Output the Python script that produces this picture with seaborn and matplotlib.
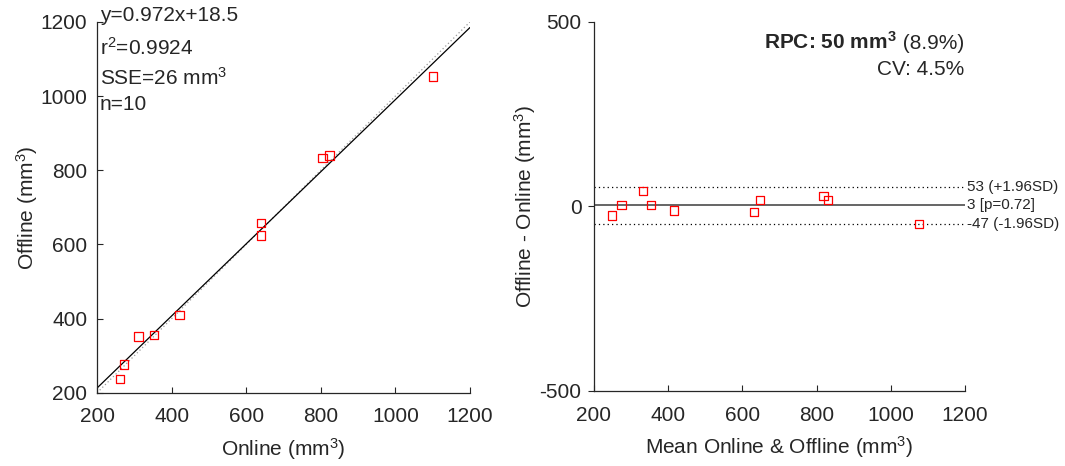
import numpy as np
import pandas as pd
import matplotlib
matplotlib.use("Agg")
import matplotlib.pyplot as plt
import seaborn as sns

# Paired volume measurements (mm^3)
online = [1100, 805, 823, 639, 639, 421, 352, 311, 272, 262]
offline = [1053, 833, 840, 657, 624, 410, 356, 352, 276, 237]

# Regression and agreement statistics
slope, intercept = 0.972, 18.5
r2 = 0.9924
sse = 26
bias = 3
loa_upper, loa_lower = 53, -47
p_bias = 0.72
rpc, rpc_pct = 50, 8.9
cv_pct = 4.5

sns.set_theme(style="ticks")
plt.rcParams["font.family"] = ["Liberation Sans", "DejaVu Sans"]
plt.rcParams["mathtext.fontset"] = "custom"
plt.rcParams["mathtext.rm"] = "Liberation Sans"
plt.rcParams["mathtext.it"] = "Liberation Sans:italic"
plt.rcParams["mathtext.bf"] = "Liberation Sans:bold"
plt.rcParams["axes.unicode_minus"] = False

FS = 15
INK = "#262626"
df = pd.DataFrame({"online": online, "offline": offline})
df["mean"] = (df["online"] + df["offline"]) / 2
df["diff"] = df["offline"] - df["online"]

fig = plt.figure(figsize=(10.65, 4.66), dpi=100)
ax1 = fig.add_axes([0.0911, 0.157, 0.3502, 0.796])
ax2 = fig.add_axes([0.5577, 0.161, 0.3484, 0.792])

# --- Correlation plot ---
xs = np.array([200, 1200])
ax1.plot(xs, xs, color="0.6", lw=0.9, ls=(0, (1, 2)), zorder=1)
ax1.plot(xs, slope * xs + intercept, color="black", lw=0.9, zorder=2)
sns.scatterplot(data=df, x="online", y="offline", ax=ax1, marker="s", s=36,
                facecolor="none", edgecolor="red", linewidth=0.9, zorder=3)
ax1.set_xlim(200, 1200)
ax1.set_ylim(200, 1200)
ax1.set_xticks(range(200, 1201, 200))
ax1.set_yticks(range(200, 1201, 200))
ax1.set_xlabel("Online (mm$^3$)", fontsize=FS, color=INK, labelpad=7)
ax1.set_ylabel("Offline (mm$^3$)", fontsize=FS, color=INK, labelpad=0)
stats = [f"y={slope}x+{intercept}", f"r$^2$={r2}", f"SSE={sse} mm$^3$", f"n={len(online)}"]
ypos = [1.017, 0.93, 0.848, 0.777]
for s, yy in zip(stats, ypos):
    ax1.text(0.008, yy, s, transform=ax1.transAxes, fontsize=FS, color=INK,
             ha="left", va="center")
ax1.tick_params(axis="both", direction="in")

# --- Bland-Altman plot ---
ax2.axhline(bias, color="0.35", lw=1.3, zorder=1)
ax2.axhline(loa_upper, color="black", lw=0.9, ls=(0, (1, 2.5)), zorder=1)
ax2.axhline(loa_lower, color="black", lw=0.9, ls=(0, (1, 2.5)), zorder=1)
sns.scatterplot(data=df, x="mean", y="diff", ax=ax2, marker="s", s=36,
                facecolor="none", edgecolor="red", linewidth=0.9, zorder=3)
ax2.set_xlim(200, 1200)
ax2.set_ylim(-500, 500)
ax2.set_xticks(range(200, 1201, 200))
ax2.set_yticks([-500, 0, 500])
ax2.set_xlabel("Mean Online & Offline (mm$^3$)", fontsize=FS, color=INK, labelpad=7)
ax2.set_ylabel("Offline - Online (mm$^3$)", fontsize=FS, color=INK, labelpad=1)
ax2.tick_params(axis="x", direction="in")
ax2.tick_params(axis="y", direction="out")
trans = ax2.get_yaxis_transform()
for val, lab in [(loa_upper, f"{loa_upper} (+1.96SD)"),
                 (bias, f"{bias} [p={p_bias}]"),
                 (loa_lower, f"{loa_lower} (-1.96SD)")]:
    ax2.text(1.005, val, lab, transform=trans, fontsize=11, color=INK,
             va="center", ha="left")

# RPC line: bold value followed by the regular percentage
t_pct = ax2.text(0.997, 0.927, f" ({rpc_pct}%)", transform=ax2.transAxes,
                 fontsize=FS, color=INK, ha="right", va="baseline")
fig.canvas.draw()
bb = t_pct.get_window_extent()
x_left = ax2.transAxes.inverted().transform((bb.x0, bb.y0))[0]
ax2.text(x_left, 0.927, f"RPC: {rpc} mm$^\\mathbf{{3}}$", transform=ax2.transAxes,
         fontsize=FS, fontweight="bold", color=INK, ha="right", va="baseline")
ax2.text(0.997, 0.87, f"CV: {cv_pct}%", transform=ax2.transAxes, fontsize=FS,
         color=INK, ha="right", va="center")

for ax in (ax1, ax2):
    sns.despine(ax=ax)
    for sp in ("left", "bottom"):
        ax.spines[sp].set_color(INK)
        ax.spines[sp].set_linewidth(0.9)
ax1.tick_params(axis="x", labelsize=FS, length=4, width=0.8, color=INK, labelcolor=INK, pad=10.5)
ax1.tick_params(axis="y", labelsize=FS, length=4, width=0.8, color=INK, labelcolor=INK, pad=7)
ax2.tick_params(axis="x", labelsize=FS, length=4, width=0.8, color=INK, labelcolor=INK, pad=10.5)
ax2.tick_params(axis="y", labelsize=FS, length=4, width=0.8, color=INK, labelcolor=INK, pad=5)

fig.savefig("out.png", dpi=100)
